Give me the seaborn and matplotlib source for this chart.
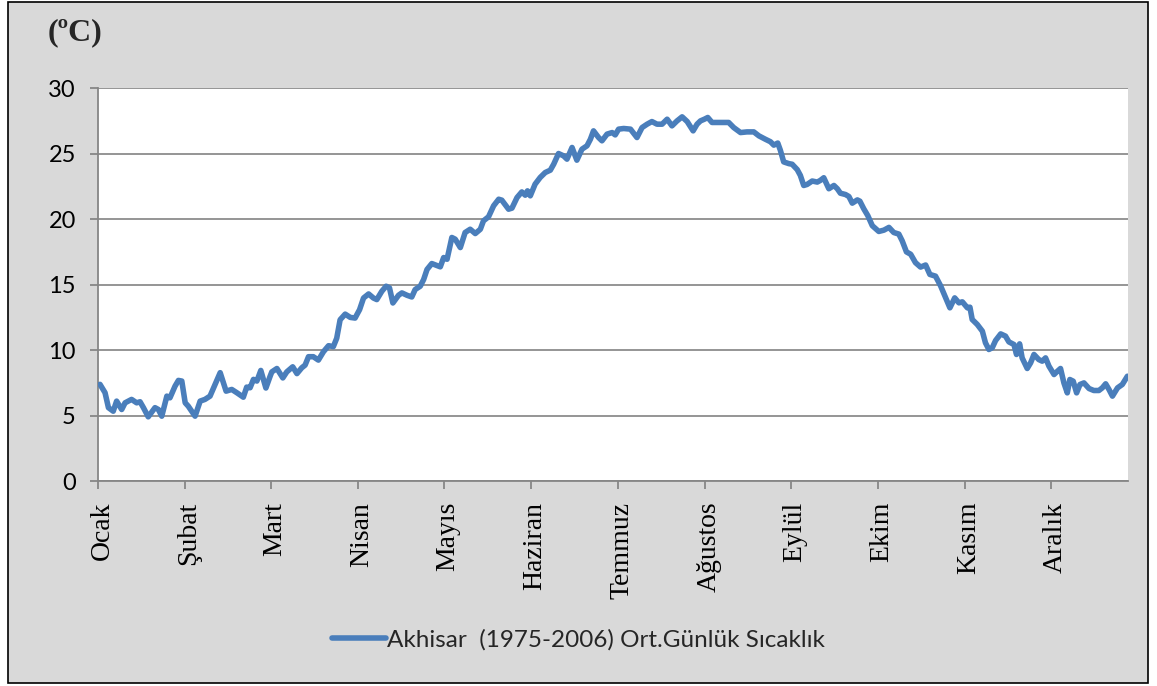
import numpy as np
import pandas as pd
import matplotlib
matplotlib.use("Agg")
import matplotlib.pyplot as plt
import matplotlib.transforms as mtransforms
import seaborn as sns
from matplotlib.patches import Rectangle

# day of year and mean daily temperature (°C)
days = [0.7, 2.5, 3.7, 5.4, 6.6, 8.4, 9.6, 11.9, 13.7, 14.9, 16.1, 17.8, 20.2, 21.4, 22.6,
        24.4, 25.5, 27.3, 28.5, 29.7, 30.9, 32.0, 33.2, 34.4, 36.2, 37.9, 39.7, 41.5, 43.3,
        45.4, 47.4, 49.2, 51.5, 52.7, 53.9, 55.1, 56.3, 57.7, 59.5, 61.0,
        61.6, 63.4, 65.5, 66.9, 69.0, 70.5, 72.2, 73.4, 74.6, 76.3, 78.1, 79.9, 81.7, 83.4,
        84.6, 85.8, 87.6, 89.4, 91.1, 92.7, 94.1, 95.9, 97.6, 98.8, 100.6, 102.1, 103.3,
        104.5, 106.5, 107.7, 109.5, 111.2, 112.4, 114.2, 115.4, 116.6, 118.3,
        119.5, 121.3, 122.5, 123.7, 125.4, 126.6, 128.4, 130.1, 131.9, 133.7, 135.5, 136.6,
        138.4, 140.2, 142.0, 143.1, 145.5, 146.7, 148.5, 150.2, 151.4, 152.2, 153.2, 154.9,
        156.7, 158.5, 160.3, 161.5, 163.2, 165.0, 166.2, 168.0, 169.7, 171.5, 173.3, 174.5,
        175.6, 177.4,
        178.6, 180.4, 182.2, 183.3, 184.5, 186.3, 188.7, 191.0, 192.8, 194.6, 196.3, 198.1,
        199.9, 201.7, 203.4, 205.2, 207.0, 208.8, 210.9, 212.3, 213.5, 214.9, 216.1, 217.6,
        219.4, 221.2, 223.5, 225.3, 227.7, 230.0, 232.4, 234.2, 236.5,
        238.3, 239.5, 240.9, 241.8, 243.0, 244.8, 246.0, 247.8, 248.9, 250.1, 251.3, 253.1,
        254.9, 256.0, 257.2, 259.0, 260.8, 262.0, 263.1, 264.9, 266.1, 267.3, 269.1, 270.0,
        271.4, 272.8, 274.4, 276.7, 278.5, 280.3, 282.0, 283.8, 285.0, 286.5, 288.0, 289.7,
        291.5, 293.3, 294.8, 296.8,
        298.6, 300.4, 301.9, 303.6, 305.1, 306.3, 308.1, 309.0, 309.8, 311.6, 313.4, 314.5,
        315.7, 316.9, 318.1, 319.9, 321.6, 322.8, 324.6, 325.5, 326.6, 327.5, 329.3, 330.5,
        331.7, 333.4, 334.6, 335.8, 337.0, 338.8, 340.0, 341.1, 342.3, 343.5, 344.4, 345.6,
        346.8, 348.0, 349.4, 351.2, 352.9, 354.7, 355.9, 357.1, 358.3, 359.5, 361.3, 363.0,
        364.8]

temps = [7.38, 6.74, 5.6, 5.33, 6.1, 5.46, 5.97, 6.23, 5.97, 6.05, 5.6, 4.9, 5.6, 5.46, 4.95,
         6.48, 6.35, 7.24, 7.68, 7.63, 5.97, 5.71, 5.33, 4.95, 6.1, 6.23, 6.48, 7.38, 8.27,
         6.86, 6.99, 6.74, 6.4, 7.17, 7.12, 7.76, 7.63, 8.44, 7.1, 8.0,
         8.33, 8.59, 7.87, 8.33, 8.72, 8.2, 8.64, 8.85, 9.49, 9.49, 9.23, 9.87, 10.33, 10.26,
         10.9, 12.31, 12.74, 12.49, 12.44, 13.08, 13.97, 14.28, 13.97, 13.85, 14.49, 14.87, 14.74,
         13.59, 14.18, 14.36, 14.18, 14.05, 14.62, 14.87, 15.38, 16.15, 16.6,
         16.5, 16.35, 17.06, 16.93, 18.59, 18.46, 17.82, 18.97, 19.22, 18.89, 19.22, 19.86,
         20.17, 21.01, 21.51, 21.44, 20.75, 20.83, 21.64, 22.07, 21.82, 22.15, 21.77, 22.66,
         23.17, 23.55, 23.73, 24.19, 25.0, 24.82, 24.57, 25.46, 24.49, 25.33, 25.59, 26.09,
         26.73, 26.22,
         25.97, 26.48, 26.6, 26.42, 26.86, 26.91, 26.86, 26.22, 26.98, 27.24, 27.44, 27.24,
         27.24, 27.62, 27.11, 27.49, 27.8, 27.44, 26.73, 27.24, 27.49, 27.62, 27.75, 27.37,
         27.37, 27.37, 27.37, 26.98, 26.6, 26.65, 26.65, 26.35, 26.09,
         25.9, 25.64, 25.8, 25.26, 24.36, 24.23, 24.18, 23.77, 23.33, 22.56, 22.64, 22.9,
         22.82, 22.95, 23.15, 22.31, 22.56, 22.31, 21.97, 21.87, 21.72, 21.21, 21.46, 21.36,
         20.77, 20.26, 19.49, 19.05, 19.15, 19.36, 18.97, 18.85, 18.33, 17.49, 17.31, 16.67,
         16.33, 16.49, 15.77, 15.64,
         14.9, 13.98, 13.22, 13.98, 13.6, 13.68, 13.22, 13.27, 12.33, 11.95, 11.44, 10.55,
         10.04, 10.17, 10.73, 11.23, 11.06, 10.62, 10.42, 9.66, 10.47, 9.4, 8.59, 9.02,
         9.66, 9.27, 9.15, 9.4, 8.77, 8.13, 8.38, 8.59, 7.49, 6.73, 7.75, 7.62,
         6.73, 7.37, 7.49, 7.06, 6.91, 6.91, 7.11, 7.42, 6.98, 6.48, 7.11, 7.37,
         8.0]

months = ["Ocak", "Şubat", "Mart", "Nisan", "Mayıs", "Haziran",
          "Temmuz", "Ağustos", "Eylül", "Ekim", "Kasım", "Aralık"]
month_ticks = [0, 30.8, 61.3, 92.1, 122.6, 153.5, 184.3, 215.1, 245.6, 276.4, 307.2, 337.7]
yticks = [0, 5, 10, 15, 20, 25, 30]

series_name = "Akhisar  (1975-2006) Ort.Günlük Sıcaklık"
df = pd.DataFrame({"day": days, "temp": temps, "series": series_name})

sns.set_style("white")
plt.rcParams["font.family"] = ["Lato", "DejaVu Sans"]

fig = plt.figure(figsize=(11.57, 6.86), dpi=100)
fig.patch.set_facecolor("white")
# grey chart-area frame, kept behind the axes
fig.patches.append(Rectangle((0.0069, 0.0044), 0.9853, 0.9927, transform=fig.transFigure,
                             facecolor="#d9d9d9", edgecolor="black", linewidth=1.2, zorder=-5))

ax = fig.add_axes([0.0847, 0.2988, 0.8902, 0.5729])
ax.set_facecolor("white")

sns.lineplot(data=df, x="day", y="temp", hue="series", palette=["#4a7ebb"],
             linewidth=4.0, ax=ax, legend=True, zorder=3)

ax.set_xlim(0, 365)
ax.set_ylim(0, 30)
ax.set_yticks(yticks)
ax.set_xticks(month_ticks)
ax.set_xticklabels(months, rotation=90, family=["Liberation Serif"], fontsize=20)
ax.set_xlabel("")
ax.set_ylabel("")
ax.tick_params(axis="y", labelsize=17, colors="#868686", labelcolor="black",
               length=6, width=1.3, direction="out", left=True, pad=10)
ax.tick_params(axis="x", colors="#868686", labelcolor="black",
               length=6, width=1.3, direction="out", bottom=True, pad=9)

# month names sit a little right of their ticks in the original
shift = mtransforms.ScaledTranslation(4 / 100, 0, fig.dpi_scale_trans)
for lbl in ax.get_xticklabels():
    lbl.set_transform(lbl.get_transform() + shift)

ax.yaxis.grid(True, color="#8c8c8c", linewidth=1.3)
ax.xaxis.grid(False)
for side in ["top", "right"]:
    ax.spines[side].set_visible(False)
for side in ["left", "bottom"]:
    ax.spines[side].set_color("#868686")
    ax.spines[side].set_linewidth(1.3)

fig.text(0.0415, 0.953, "(ºC)", family=["Liberation Serif"], fontweight="bold",
         fontsize=23, ha="left", va="center")

handles, labels = ax.get_legend_handles_labels()
ax.get_legend().remove()
fig.legend(handles, labels, loc="center", bbox_to_anchor=(0.5, 0.068), frameon=False,
           fontsize=17.5, handlelength=2.2, handletextpad=0.05)

fig.savefig("out.png", dpi=100, facecolor=fig.get_facecolor())
